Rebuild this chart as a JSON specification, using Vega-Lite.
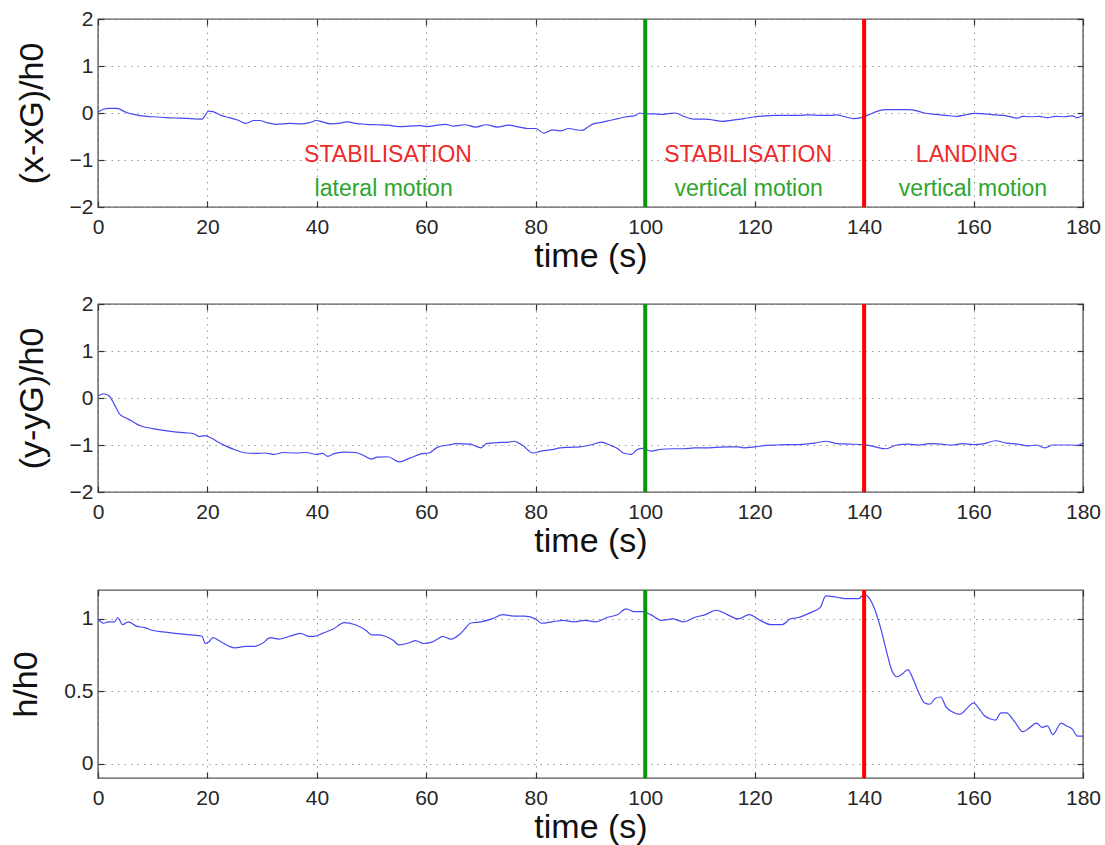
{
  "$schema": "https://vega.github.io/schema/vega-lite/v6.json",
  "padding": {"top": 7, "left": 9, "right": 4, "bottom": 2},
  "spacing": 28,
  "config": {
    "font": "Liberation Sans",
    "view": {"stroke": "#555555", "strokeWidth": 1.4},
    "axis": {
      "labelFont": "Liberation Sans", "labelFontSize": 21, "labelColor": "#262626",
      "titleFont": "Liberation Sans", "titleFontSize": 34, "titleFontWeight": "normal", "titleColor": "#111111",
      "tickColor": "#333333", "tickSize": -6, "tickWidth": 1.2, "domain": false,
      "labelFlush": false, "labelOverlap": false,
      "gridDash": [1.5, 5], "gridColor": "#999999", "gridWidth": 1
    },
    "axisBottom": {"labelPadding": 15, "titlePadding": 2},
    "axisLeft": {"labelPadding": 11, "titlePadding": 20},
    "line": {"color": "#4848f2", "strokeWidth": 1.2, "interpolate": "monotone"}
  },
  "datasets": {
    "xg": [
      {"t":0,"v":0.02},{"t":1,"v":0.08},{"t":2,"v":0.1},{"t":3.5,"v":0.1},{"t":5,"v":0.02},{"t":6.5,"v":-0.03},{"t":8,"v":-0.06},{"t":10,"v":-0.08},{"t":12.5,"v":-0.1},{"t":15,"v":-0.11},{"t":17,"v":-0.12},{"t":19,"v":-0.13},{"t":19.6,"v":-0.05},{"t":20.2,"v":0.04},{"t":21,"v":0.03},{"t":22.5,"v":-0.05},{"t":24,"v":-0.1},{"t":25.5,"v":-0.15},{"t":27,"v":-0.22},{"t":28.5,"v":-0.16},{"t":29.5,"v":-0.16},{"t":31,"v":-0.21},{"t":32.5,"v":-0.24},{"t":35,"v":-0.22},{"t":37,"v":-0.23},{"t":38.5,"v":-0.21},{"t":40,"v":-0.16},{"t":41,"v":-0.19},{"t":42.5,"v":-0.23},{"t":44,"v":-0.22},{"t":45.5,"v":-0.19},{"t":47,"v":-0.22},{"t":49,"v":-0.24},{"t":51,"v":-0.25},{"t":53,"v":-0.26},{"t":55,"v":-0.29},{"t":57,"v":-0.28},{"t":59,"v":-0.27},{"t":60,"v":-0.29},{"t":62,"v":-0.26},{"t":63.5,"v":-0.24},{"t":65,"v":-0.28},{"t":67,"v":-0.25},{"t":69,"v":-0.3},{"t":71,"v":-0.25},{"t":73,"v":-0.3},{"t":75,"v":-0.26},{"t":77,"v":-0.3},{"t":78.5,"v":-0.33},{"t":80,"v":-0.33},{"t":81.5,"v":-0.43},{"t":83,"v":-0.36},{"t":84.5,"v":-0.38},{"t":86,"v":-0.33},{"t":87.5,"v":-0.36},{"t":88.5,"v":-0.37},{"t":89.5,"v":-0.3},{"t":90.5,"v":-0.23},{"t":92,"v":-0.2},{"t":93.5,"v":-0.16},{"t":95,"v":-0.12},{"t":96.5,"v":-0.08},{"t":98,"v":-0.06},{"t":99,"v":0.0},{"t":100,"v":-0.02},{"t":101.5,"v":-0.02},{"t":103,"v":-0.03},{"t":104.5,"v":-0.01},{"t":105.5,"v":0.0},{"t":107,"v":-0.07},{"t":109,"v":-0.13},{"t":111,"v":-0.13},{"t":112.5,"v":-0.15},{"t":114,"v":-0.18},{"t":116,"v":-0.15},{"t":118,"v":-0.12},{"t":120,"v":-0.08},{"t":122,"v":-0.06},{"t":124,"v":-0.05},{"t":126,"v":-0.05},{"t":128,"v":-0.05},{"t":130,"v":-0.04},{"t":132,"v":-0.05},{"t":134,"v":-0.05},{"t":135,"v":-0.04},{"t":136.5,"v":-0.08},{"t":138,"v":-0.12},{"t":139.5,"v":-0.1},{"t":141,"v":-0.03},{"t":142.5,"v":0.04},{"t":144,"v":0.07},{"t":146,"v":0.07},{"t":148,"v":0.07},{"t":149.5,"v":0.05},{"t":151,"v":0.0},{"t":153,"v":-0.03},{"t":155,"v":-0.05},{"t":157,"v":-0.07},{"t":158.5,"v":-0.04},{"t":160,"v":-0.01},{"t":162,"v":-0.02},{"t":164,"v":-0.04},{"t":166,"v":-0.06},{"t":168,"v":-0.11},{"t":169,"v":-0.07},{"t":170.5,"v":-0.08},{"t":172,"v":-0.07},{"t":173.5,"v":-0.1},{"t":175,"v":-0.07},{"t":176.5,"v":-0.08},{"t":178,"v":-0.06},{"t":179,"v":-0.1},{"t":180,"v":-0.05}
    ],
    "yg": [
      {"t":0,"v":0.04},{"t":1,"v":0.09},{"t":2,"v":0.05},{"t":3,"v":-0.14},{"t":4,"v":-0.35},{"t":5,"v":-0.42},{"t":6,"v":-0.48},{"t":7,"v":-0.55},{"t":8,"v":-0.6},{"t":10,"v":-0.65},{"t":12,"v":-0.69},{"t":14,"v":-0.72},{"t":16,"v":-0.74},{"t":17.5,"v":-0.76},{"t":18.5,"v":-0.82},{"t":19.5,"v":-0.8},{"t":20.5,"v":-0.84},{"t":22,"v":-0.94},{"t":23.5,"v":-1.03},{"t":25,"v":-1.1},{"t":27,"v":-1.17},{"t":29,"v":-1.18},{"t":30.5,"v":-1.17},{"t":32,"v":-1.2},{"t":34,"v":-1.16},{"t":36,"v":-1.17},{"t":38,"v":-1.16},{"t":40,"v":-1.2},{"t":41,"v":-1.18},{"t":42,"v":-1.24},{"t":43,"v":-1.19},{"t":45,"v":-1.15},{"t":47,"v":-1.16},{"t":48.5,"v":-1.22},{"t":50,"v":-1.3},{"t":51,"v":-1.26},{"t":53,"v":-1.25},{"t":55,"v":-1.36},{"t":57,"v":-1.28},{"t":59,"v":-1.19},{"t":60.5,"v":-1.17},{"t":62,"v":-1.05},{"t":64,"v":-1.0},{"t":65.5,"v":-0.97},{"t":68,"v":-0.98},{"t":70,"v":-1.06},{"t":71,"v":-0.97},{"t":73,"v":-0.95},{"t":75,"v":-0.94},{"t":76,"v":-0.92},{"t":77.5,"v":-1.0},{"t":79.5,"v":-1.17},{"t":81,"v":-1.13},{"t":83,"v":-1.1},{"t":84.5,"v":-1.06},{"t":86,"v":-1.05},{"t":88,"v":-1.04},{"t":90,"v":-1.0},{"t":92,"v":-0.94},{"t":93.5,"v":-1.0},{"t":95,"v":-1.08},{"t":96,"v":-1.17},{"t":97.5,"v":-1.2},{"t":98.5,"v":-1.1},{"t":99.5,"v":-1.07},{"t":101,"v":-1.13},{"t":103,"v":-1.09},{"t":105,"v":-1.08},{"t":107,"v":-1.08},{"t":109,"v":-1.06},{"t":111,"v":-1.06},{"t":113,"v":-1.05},{"t":115,"v":-1.04},{"t":117,"v":-1.04},{"t":118,"v":-1.06},{"t":120,"v":-1.04},{"t":122,"v":-1.01},{"t":124,"v":-1.0},{"t":126,"v":-0.99},{"t":128,"v":-0.99},{"t":131,"v":-0.96},{"t":133,"v":-0.92},{"t":135,"v":-0.97},{"t":137,"v":-0.98},{"t":140,"v":-0.99},{"t":142,"v":-1.04},{"t":144,"v":-1.08},{"t":146,"v":-1.0},{"t":148,"v":-0.98},{"t":150,"v":-1.0},{"t":152,"v":-0.97},{"t":154,"v":-0.98},{"t":156,"v":-1.0},{"t":158,"v":-0.97},{"t":160,"v":-0.99},{"t":162,"v":-0.97},{"t":164,"v":-0.91},{"t":166,"v":-0.96},{"t":168,"v":-0.98},{"t":170,"v":-1.02},{"t":171.5,"v":-1.0},{"t":173,"v":-1.06},{"t":174.5,"v":-1.0},{"t":176,"v":-1.0},{"t":178,"v":-1.0},{"t":179,"v":-1.01},{"t":180,"v":-0.96}
    ],
    "h": [
      {"t":0,"v":1.0},{"t":1,"v":0.97},{"t":2,"v":0.98},{"t":3,"v":0.98},{"t":3.6,"v":1.01},{"t":4.5,"v":0.96},{"t":5.5,"v":0.98},{"t":7,"v":0.95},{"t":8.5,"v":0.94},{"t":10,"v":0.92},{"t":12,"v":0.91},{"t":14,"v":0.9},{"t":17,"v":0.89},{"t":19,"v":0.88},{"t":19.6,"v":0.83},{"t":20.2,"v":0.84},{"t":21,"v":0.87},{"t":22.5,"v":0.84},{"t":24,"v":0.81},{"t":25,"v":0.8},{"t":27,"v":0.81},{"t":28.5,"v":0.81},{"t":30,"v":0.83},{"t":31.5,"v":0.87},{"t":33,"v":0.86},{"t":35,"v":0.88},{"t":37,"v":0.9},{"t":38.5,"v":0.88},{"t":39.5,"v":0.88},{"t":41,"v":0.9},{"t":43,"v":0.93},{"t":45,"v":0.975},{"t":47,"v":0.96},{"t":49,"v":0.92},{"t":50,"v":0.89},{"t":51,"v":0.89},{"t":52.5,"v":0.88},{"t":54,"v":0.85},{"t":55,"v":0.82},{"t":56.5,"v":0.83},{"t":58,"v":0.85},{"t":59.5,"v":0.83},{"t":61,"v":0.84},{"t":62,"v":0.86},{"t":63,"v":0.88},{"t":64.5,"v":0.86},{"t":66,"v":0.89},{"t":67,"v":0.93},{"t":68,"v":0.97},{"t":70,"v":0.98},{"t":72,"v":1.0},{"t":74,"v":1.03},{"t":76,"v":1.02},{"t":78,"v":1.02},{"t":80,"v":1.0},{"t":81,"v":0.97},{"t":83,"v":0.98},{"t":85,"v":0.99},{"t":87,"v":0.98},{"t":89,"v":0.99},{"t":91,"v":0.98},{"t":93,"v":1.01},{"t":95,"v":1.03},{"t":96.5,"v":1.07},{"t":98,"v":1.05},{"t":99.5,"v":1.05},{"t":101,"v":1.03},{"t":103,"v":0.99},{"t":105,"v":1.0},{"t":107,"v":0.98},{"t":109,"v":1.01},{"t":111,"v":1.03},{"t":113,"v":1.06},{"t":115,"v":1.03},{"t":117,"v":1.0},{"t":119,"v":1.03},{"t":121,"v":0.99},{"t":123,"v":0.96},{"t":125,"v":0.96},{"t":126.5,"v":1.0},{"t":128,"v":1.01},{"t":130,"v":1.04},{"t":132,"v":1.08},{"t":133,"v":1.16},{"t":135,"v":1.15},{"t":137,"v":1.14},{"t":139,"v":1.14},{"t":140,"v":1.17},{"t":141,"v":1.14},{"t":142,"v":1.06},{"t":143,"v":0.94},{"t":144,"v":0.79},{"t":145,"v":0.65},{"t":146,"v":0.6},{"t":147,"v":0.62},{"t":148,"v":0.65},{"t":149,"v":0.58},{"t":150,"v":0.49},{"t":151,"v":0.42},{"t":152,"v":0.41},{"t":153,"v":0.45},{"t":154,"v":0.46},{"t":155,"v":0.39},{"t":156,"v":0.36},{"t":157.5,"v":0.34},{"t":159,"v":0.39},{"t":160,"v":0.42},{"t":161,"v":0.38},{"t":162,"v":0.33},{"t":163,"v":0.31},{"t":164,"v":0.3},{"t":165,"v":0.35},{"t":166,"v":0.35},{"t":167.5,"v":0.29},{"t":169,"v":0.22},{"t":170,"v":0.24},{"t":171.5,"v":0.28},{"t":172.5,"v":0.25},{"t":173.5,"v":0.26},{"t":174.5,"v":0.2},{"t":176,"v":0.28},{"t":177,"v":0.26},{"t":178,"v":0.24},{"t":179,"v":0.19},{"t":180,"v":0.19}
    ],
    "markers": [
      {"t": 100, "event": "vertical motion"},
      {"t": 140, "event": "landing"}
    ],
    "labels": [
      {"t": 53, "v": -0.9, "text": "STABILISATION", "kind": "phase"},
      {"t": 52.2, "v": -1.62, "text": "lateral motion", "kind": "motion"},
      {"t": 118.8, "v": -0.9, "text": "STABILISATION", "kind": "phase"},
      {"t": 118.9, "v": -1.62, "text": "vertical motion", "kind": "motion"},
      {"t": 158.8, "v": -0.9, "text": "LANDING", "kind": "phase"},
      {"t": 159.9, "v": -1.62, "text": "vertical motion", "kind": "motion"}
    ]
  },
  "vconcat": [
    {
      "spacing": 18,
      "vconcat": [
        {
          "width": 985, "height": 188,
          "layer": [
            {
              "data": {"name": "xg"},
              "mark": {"type": "line"},
              "encoding": {
                "x": {"field": "t", "type": "quantitative", "scale": {"domain": [0, 180], "nice": false},
                      "axis": {"orient": "bottom", "values": [0,20,40,60,80,100,120,140,160,180], "title": "time (s)", "grid": true}},
                "y": {"field": "v", "type": "quantitative", "scale": {"domain": [-2, 2], "nice": false},
                      "axis": {"orient": "left", "values": [-2,-1,0,1,2], "title": "(x-xG)/h0", "grid": true}}
              }
            },
            {
              "data": {"name": "markers"},
              "mark": {"type": "rule", "strokeWidth": 4},
              "encoding": {
                "x": {"field": "t", "type": "quantitative", "axis": {"orient": "top", "values": [0,20,40,60,80,100,120,140,160,180], "labels": false, "title": null, "grid": false}},
                "y": {"datum": -2, "type": "quantitative", "axis": {"orient": "right", "values": [-2,-1,0,1,2], "labels": false, "title": null, "grid": false}},
                "y2": {"datum": 2},
                "color": {"field": "event", "type": "nominal", "scale": {"domain": ["vertical motion", "landing"], "range": ["#069a06", "#ff0000"]}, "legend": null}
              }
            },
            {
              "data": {"name": "labels"},
              "mark": {"type": "text", "fontSize": 23, "font": "Liberation Sans", "baseline": "middle", "align": "center"},
              "encoding": {
                "x": {"field": "t", "type": "quantitative", "axis": null},
                "y": {"field": "v", "type": "quantitative", "axis": null},
                "text": {"field": "text"},
                "color": {"field": "kind", "type": "nominal", "scale": {"domain": ["phase", "motion"], "range": ["#ee2a2a", "#2ea52e"]}, "legend": null}
              }
            }
          ],
          "resolve": {"axis": {"x": "independent", "y": "independent"}, "scale": {"color": "independent"}}
        },
        {
          "width": 985, "height": 188,
          "layer": [
            {
              "data": {"name": "yg"},
              "mark": {"type": "line"},
              "encoding": {
                "x": {"field": "t", "type": "quantitative", "scale": {"domain": [0, 180], "nice": false},
                      "axis": {"orient": "bottom", "values": [0,20,40,60,80,100,120,140,160,180], "title": "time (s)", "grid": true}},
                "y": {"field": "v", "type": "quantitative", "scale": {"domain": [-2, 2], "nice": false},
                      "axis": {"orient": "left", "values": [-2,-1,0,1,2], "title": "(y-yG)/h0", "grid": true}}
              }
            },
            {
              "data": {"name": "markers"},
              "mark": {"type": "rule", "strokeWidth": 4},
              "encoding": {
                "x": {"field": "t", "type": "quantitative", "axis": {"orient": "top", "values": [0,20,40,60,80,100,120,140,160,180], "labels": false, "title": null, "grid": false}},
                "y": {"datum": -2, "type": "quantitative", "axis": {"orient": "right", "values": [-2,-1,0,1,2], "labels": false, "title": null, "grid": false}},
                "y2": {"datum": 2},
                "color": {"field": "event", "type": "nominal", "scale": {"domain": ["vertical motion", "landing"], "range": ["#069a06", "#ff0000"]}, "legend": null}
              }
            }
          ],
          "resolve": {"axis": {"x": "independent", "y": "independent"}}
        }
      ]
    },
    {
      "width": 985, "height": 188,
      "layer": [
        {
          "data": {"name": "h"},
          "mark": {"type": "line"},
          "encoding": {
            "x": {"field": "t", "type": "quantitative", "scale": {"domain": [0, 180], "nice": false},
                  "axis": {"orient": "bottom", "values": [0,20,40,60,80,100,120,140,160,180], "title": "time (s)", "grid": true}},
            "y": {"field": "v", "type": "quantitative", "scale": {"domain": [-0.1, 1.2], "nice": false, "zero": false},
                  "axis": {"orient": "left", "values": [0, 0.5, 1], "format": "~g", "title": "h/h0", "grid": true}}
          }
        },
        {
          "data": {"name": "markers"},
          "mark": {"type": "rule", "strokeWidth": 4},
          "encoding": {
            "x": {"field": "t", "type": "quantitative", "axis": {"orient": "top", "values": [0,20,40,60,80,100,120,140,160,180], "labels": false, "title": null, "grid": false}},
            "y": {"datum": -0.1, "type": "quantitative", "axis": {"orient": "right", "values": [0, 0.5, 1], "labels": false, "title": null, "grid": false}},
            "y2": {"datum": 1.2},
            "color": {"field": "event", "type": "nominal", "scale": {"domain": ["vertical motion", "landing"], "range": ["#069a06", "#ff0000"]}, "legend": null}
          }
        }
      ],
      "resolve": {"axis": {"x": "independent", "y": "independent"}}
    }
  ]
}
